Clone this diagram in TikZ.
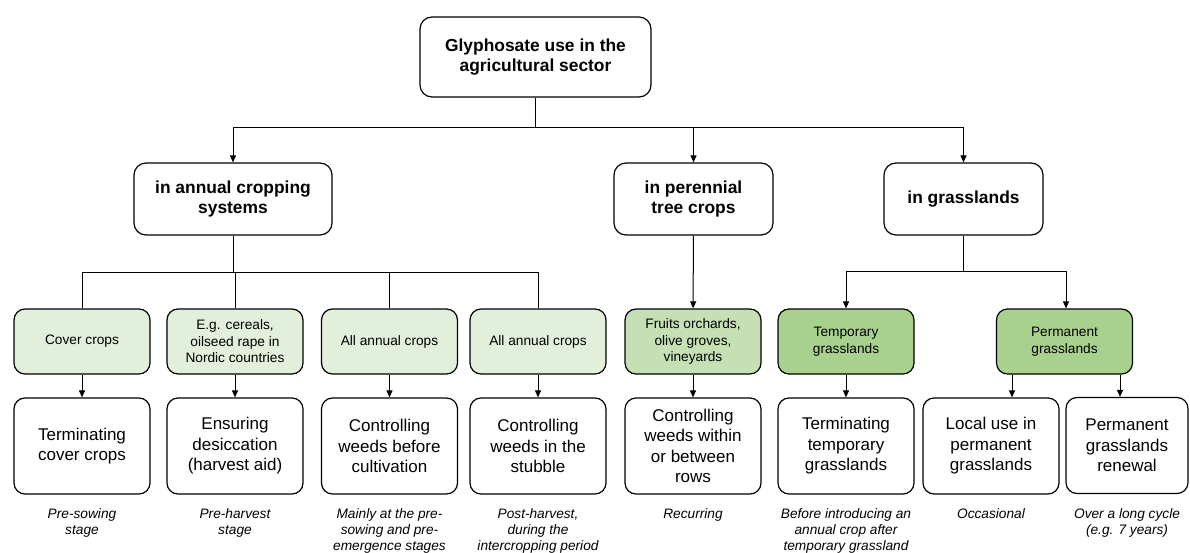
\documentclass[tikz,border=0pt]{standalone}
\usepackage{fontspec}
\setmainfont{Liberation Sans}
\usetikzlibrary{arrows.meta}
\definecolor{green1}{HTML}{E2EFDA}
\definecolor{green2}{HTML}{C5E0B4}
\definecolor{green3}{HTML}{A9D18E}

\begin{document}
\begin{tikzpicture}[
    x=1pt, y=-1pt,
    box/.style={draw, line width=1.2pt, rounded corners=11pt, align=center, inner sep=0pt},
    headbox/.style={box, rounded corners=12pt, font=\bfseries\fontsize{17.4}{20.5}\selectfont},
    cropbox/.style={box, minimum width=136pt, minimum height=65pt, font=\fontsize{13.7}{16.5}\selectfont},
    usebox/.style={box, minimum width=136pt, minimum height=96pt, font=\fontsize{17}{20.5}\selectfont},
    stagenote/.style={anchor=north, align=center, inner sep=0pt, font=\itshape\fontsize{13.7}{16}\selectfont},
    link/.style={line width=1pt},
    arr/.style={link, -{Triangle[length=7pt,width=6pt]}}
  ]
  \useasboundingbox (0,0) rectangle (1190,553);

  % top and main uses
  \node[headbox, minimum width=231pt, minimum height=80pt] (glypho) at (535.5,57) {Glyphosate use in the\\agricultural sector};
  \node[headbox, minimum width=198pt, minimum height=72pt] (annual) at (233,199) {in annual cropping\\systems};
  \node[headbox, minimum width=159pt, minimum height=72pt] (perennial) at (693.5,199) {in perennial\\tree crops};
  \node[headbox, minimum width=159pt, minimum height=72pt] (grass) at (963.5,199) {in grasslands};

  % crops
  \node[cropbox, fill=green1] (cover) at (82,341.5) {Cover crops};
  \node[cropbox, fill=green1] (cereal) at (235,341.5) {E.g. cereals,\\oilseed rape in\\Nordic countries};
  \node[cropbox, fill=green1] (allann) at (389.5,341.5) {All annual crops};
  \node[cropbox, fill=green1] (allstub) at (538,341.5) {All annual crops};
  \node[cropbox, fill=green2] (orchard) at (693,341.5) {Fruits orchards,\\olive groves,\\vineyards};
  \node[cropbox, fill=green3] (tempgr) at (846,341.5) {Temporary\\grasslands};
  \node[cropbox, fill=green3] (permgr) at (1064.5,341.5) {Permanent\\grasslands};

  % uses
  \node[usebox] (termcov) at (82,446) {Terminating\\cover crops};
  \node[usebox] (desic) at (235,446) {Ensuring\\desiccation\\(harvest aid)};
  \node[usebox] (before) at (389.5,446) {Controlling\\weeds before\\cultivation};
  \node[usebox] (stubble) at (538,446) {Controlling\\weeds in the\\stubble};
  \node[usebox] (rows) at (693,446) {Controlling\\weeds within\\or between\\rows};
  \node[usebox] (termtemp) at (846,446) {Terminating\\temporary\\grasslands};
  \node[usebox] (local) at (991,446) {Local use in\\permanent\\grasslands};
  \node[usebox, minimum width=122pt] (renew) at (1127,445.5) {Permanent\\grasslands\\renewal};

  % stages
  \node[stagenote] (n1) at (82,508) {Pre-sowing\\stage};
  \node[stagenote] (n2) at (235,508) {Pre-harvest\\stage};
  \node[stagenote] (n3) at (389.5,508) {Mainly at the pre-\\sowing and pre-\\emergence stages};
  \node[stagenote] (n4) at (538,508) {Post-harvest,\\during the\\intercropping period};
  \node[stagenote] (n5) at (693,508) {Recurring};
  \node[stagenote] (n6) at (846,508) {Before introducing an\\annual crop after\\temporary grassland};
  \node[stagenote] (n7) at (991,508) {Occasional};
  \node[stagenote] (n8) at (1127,508) {Over a long cycle\\(e.g. 7 years)};

  % connectors
  \coordinate (topbus) at (535.5,128);
  \coordinate (annbus) at (233,272);
  \coordinate (grbus) at (963.5,271);
  \draw[link] (glypho) -- (topbus);
  \draw[arr] (topbus) -| (annual.north);
  \draw[arr] (topbus) -| (perennial.north);
  \draw[arr] (topbus) -| (grass.north);

  \draw[link] (annual) -- (annbus);
  \draw[link] (annbus) -| (cover.north);
  \draw[link] (annbus) -| (cereal.north);
  \draw[link] (annbus) -| (allann.north);
  \draw[link] (annbus) -| (allstub.north);
  \draw[arr] (perennial) -- (orchard);
  \draw[link] (grass) -- (grbus);
  \draw[arr] (grbus) -| (tempgr.north);
  \draw[arr] (grbus) -| ([xshift=1.5pt]permgr.north);

  \foreach \a/\b in {cover/termcov, cereal/desic, allann/before, allstub/stubble, orchard/rows, tempgr/termtemp}
    \draw[arr] (\a) -- (\b);
  \draw[arr] ([xshift=-52.5pt]permgr.south) -- ([xshift=-52.5pt]permgr.south |- local.north);
  \draw[arr] ([xshift=55.5pt]permgr.south) -- ([xshift=55.5pt]permgr.south |- renew.north);
\end{tikzpicture}
\end{document}
